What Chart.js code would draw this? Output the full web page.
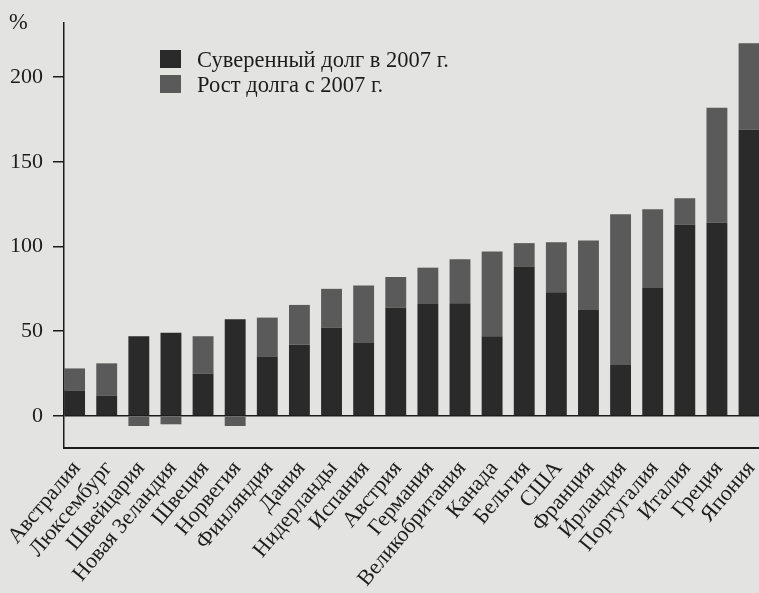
<!DOCTYPE html>
<html lang="ru">
<head>
<meta charset="utf-8">
<title>Суверенный долг</title>
<script src="https://cdn.jsdelivr.net/npm/chart.js@4.4.1/dist/chart.umd.min.js"></script>
<style>
  html, body { margin: 0; padding: 0; background: #e3e3e1; }
  #wrap { width: 759px; height: 593px; }
</style>
</head>
<body>
<div id="wrap"><canvas id="debtChart" width="759" height="593"></canvas></div>
<script>
const countries = ['Австралия', 'Люксембург', 'Швейцария', 'Новая Зеландия', 'Швеция', 'Норвегия',
  'Финляндия', 'Дания', 'Нидерланды', 'Испания', 'Австрия', 'Германия', 'Великобритания',
  'Канада', 'Бельгия', 'США', 'Франция', 'Ирландия', 'Португалия', 'Италия', 'Греция', 'Япония'];
const debt2007 = [15, 12, 47, 49, 25, 57, 35, 42, 52, 43, 64, 66, 66.5, 47, 88, 73, 62.5, 30, 75.5, 113, 114, 169];
const debtGrowth = [13, 19, -6, -5, 22, -6, 23, 23.5, 23, 34, 18, 21.5, 26, 50, 14, 29.5, 41, 89, 46.5, 15.5, 68, 51];
const seriesNames = ['Суверенный долг в 2007 г.', 'Рост долга с 2007 г.'];
const yTicks = [0, 50, 100, 150, 200];

const ink = '#1c1c1c';
const serif = "'Liberation Serif', 'Times New Roman', serif";

// legend swatches inside the plot + the "%" unit above the value axis
const boxLegend = {
  id: 'boxLegend',
  afterDraw(chart) {
    const {ctx, chartArea} = chart;
    ctx.save();
    ctx.font = '22.5px ' + serif;
    ctx.textBaseline = 'alphabetic';
    chart.data.datasets.forEach((ds, i) => {
      const x = chartArea.left + 96;
      const y = chartArea.top + 27 + i * 25;
      ctx.fillStyle = ds.backgroundColor;
      ctx.fillRect(x, y, 21, 18);
      ctx.fillStyle = ink;
      ctx.fillText(ds.label, x + 37, y + 17);
    });
    ctx.fillText('%', chartArea.left - 55, chartArea.top + 6);
    ctx.restore();
  }
};

const toPoints = arr => arr.map((v, i) => ({x: i, y: v}));

new Chart(document.getElementById('debtChart'), {
  type: 'bar',
  data: {
    datasets: [
      { label: seriesNames[0], data: toPoints(debt2007), backgroundColor: '#2a2a2a' },
      { label: seriesNames[1], data: toPoints(debtGrowth), backgroundColor: '#5a5a5a' }
    ]
  },
  options: {
    responsive: false,
    animation: false,
    barPercentage: 0.65,
    categoryPercentage: 1,
    layout: { padding: { top: 23, right: 0, left: 0, bottom: 0 } },
    plugins: {
      legend: { display: false },
      tooltip: { enabled: true }
    },
    scales: {
      x: {
        type: 'linear',
        stacked: true,
        offset: false,
        min: -0.33,
        max: 21.31,
        afterBuildTicks: s => { s.ticks = countries.map((c, i) => ({value: i})); },
        afterFit: s => { s.height = 145; s.paddingLeft = 0; s.paddingRight = 0; },
        grid: { display: false, drawTicks: false, offset: false },
        border: { display: true, color: ink, width: 2 },
        ticks: {
          autoSkip: false,
          maxRotation: 50,
          minRotation: 50,
          padding: 8,
          labelOffset: 2,
          color: ink,
          font: { family: serif, size: 22 },
          callback: v => countries[v]
        }
      },
      y: {
        stacked: true,
        min: -19,
        max: 232,
        afterBuildTicks: s => { s.ticks = yTicks.map(v => ({value: v})); },
        afterFit: s => { s.width = 64; s.paddingTop = 0; s.paddingBottom = 0; },
        grid: {
          drawOnChartArea: true,
          color: c => (c.tick && c.tick.value === 0 ? ink : 'rgba(0,0,0,0)'),
          tickColor: ink,
          tickLength: 11,
          lineWidth: 1.5
        },
        border: { display: true, color: ink, width: 1.5 },
        ticks: {
          padding: 10,
          color: ink,
          font: { family: serif, size: 22 }
        }
      }
    }
  },
  plugins: [boxLegend]
});
</script>
</body>
</html>
